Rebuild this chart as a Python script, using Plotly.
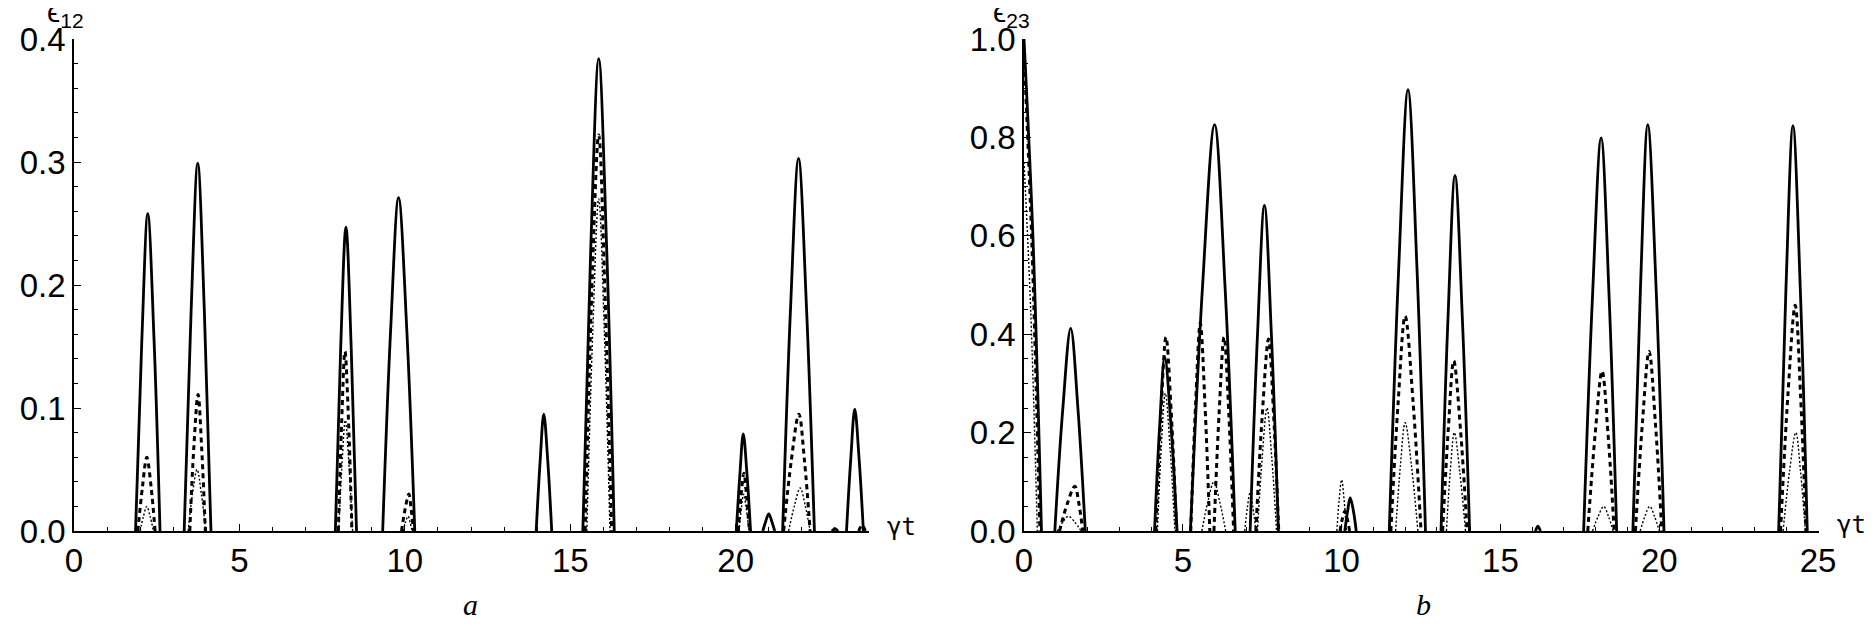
import plotly.graph_objects as go

W, H = 1874, 638

# ---- panel a : eps_12 vs gamma*t (arches separated by None) ----
solid_a_x = [1.86, 2.05, 2.23, 2.42, 2.60, None,
             3.33, 3.54, 3.74, 3.94, 4.14, None,
             7.90, 8.06, 8.22, 8.38, 8.54, None,
             9.33, 9.57, 9.81, 10.06, 10.30, None,
             13.97, 14.09, 14.20, 14.32, 14.44, None,
             15.38, 15.62, 15.86, 16.10, 16.33, None,
             20.02, 20.13, 20.23, 20.34, 20.45, None,
             20.82, 20.91, 21.00, 21.09, 21.18, None,
             21.42, 21.66, 21.90, 22.14, 22.38, None,
             22.90, 22.95, 23.00, 23.05, 23.10, None,
             23.35, 23.48, 23.60, 23.73, 23.86]
solid_a_y = [0, 0.155, 0.258, 0.155, 0, None,
             0, 0.179, 0.299, 0.179, 0, None,
             0, 0.148, 0.247, 0.148, 0, None,
             0, 0.163, 0.271, 0.163, 0, None,
             0, 0.057, 0.095, 0.057, 0, None,
             0, 0.230, 0.384, 0.230, 0, None,
             0, 0.047, 0.079, 0.047, 0, None,
             0, 0.008, 0.014, 0.008, 0, None,
             0, 0.182, 0.303, 0.182, 0, None,
             0, 0.001, 0.002, 0.001, 0, None,
             0, 0.059, 0.099, 0.059, 0]

dashed_a_x = [1.93, 2.07, 2.20, 2.33, 2.45, None,
              3.50, 3.62, 3.75, 3.86, 3.97, None,
              7.99, 8.09, 8.19, 8.30, 8.40, None,
              9.90, 10.01, 10.12, 10.19, 10.26, None,
              15.45, 15.65, 15.86, 16.05, 16.25, None,
              20.08, 20.16, 20.25, 20.33, 20.42, None,
              21.45, 21.68, 21.91, 22.08, 22.25, None,
              23.72, 23.77, 23.82, 23.87, 23.92]
dashed_a_y = [0, 0.036, 0.060, 0.036, 0, None,
              0, 0.067, 0.111, 0.067, 0, None,
              0, 0.088, 0.146, 0.088, 0, None,
              0, 0.018, 0.030, 0.018, 0, None,
              0, 0.193, 0.322, 0.193, 0, None,
              0, 0.028, 0.047, 0.028, 0, None,
              0, 0.057, 0.095, 0.057, 0, None,
              0, 0.003, 0.005, 0.003, 0]

dotted_a_x = [2.00, 2.10, 2.20, 2.30, 2.40, None,
              3.45, 3.58, 3.72, 3.85, 3.98, None,
              8.00, 8.10, 8.20, 8.31, 8.42, None,
              9.95, 10.02, 10.10, 10.16, 10.22, None,
              15.50, 15.68, 15.86, 16.03, 16.20, None,
              20.10, 20.17, 20.24, 20.32, 20.40, None,
              21.60, 21.78, 21.95, 22.10, 22.25]
dotted_a_y = [0, 0.012, 0.020, 0.012, 0, None,
              0, 0.030, 0.050, 0.030, 0, None,
              0, 0.054, 0.090, 0.054, 0, None,
              0, 0.007, 0.012, 0.007, 0, None,
              0, 0.162, 0.270, 0.162, 0, None,
              0, 0.018, 0.030, 0.018, 0, None,
              0, 0.021, 0.035, 0.021, 0]

# ---- panel b : eps_23 vs gamma*t ----
solid_b_x = [0, 0.28, 0.55, None,
             0.97, 1.22, 1.47, 1.70, 1.93, None,
             4.11, 4.27, 4.43, 4.63, 4.82, None,
             5.24, 5.62, 6.00, 6.33, 6.65, None,
             7.12, 7.35, 7.57, 7.79, 8.01, None,
             10.10, 10.19, 10.27, 10.37, 10.46, None,
             11.50, 11.80, 12.09, 12.37, 12.64, None,
             13.13, 13.35, 13.57, 13.80, 14.03, None,
             16.10, 16.14, 16.18, 16.22, 16.26, None,
             17.62, 17.90, 18.17, 18.42, 18.66, None,
             19.17, 19.41, 19.64, 19.90, 20.15, None,
             23.76, 23.99, 24.21, 24.44, 24.66]
solid_b_y = [1.0, 0.6, 0, None,
             0, 0.247, 0.412, 0.247, 0, None,
             0, 0.212, 0.354, 0.212, 0, None,
             0, 0.496, 0.826, 0.496, 0, None,
             0, 0.397, 0.662, 0.397, 0, None,
             0, 0.041, 0.068, 0.041, 0, None,
             0, 0.538, 0.897, 0.538, 0, None,
             0, 0.434, 0.723, 0.434, 0, None,
             0, 0.006, 0.010, 0.006, 0, None,
             0, 0.479, 0.799, 0.479, 0, None,
             0, 0.496, 0.826, 0.496, 0, None,
             0, 0.494, 0.824, 0.494, 0]

dashed_b_x = [0, 0.25, 0.50, None,
              1.12, 1.36, 1.60, 1.73, 1.85, None,
              4.15, 4.31, 4.47, 4.64, 4.80, None,
              5.25, 5.40, 5.55, 5.70, 5.85, None,
              5.98, 6.14, 6.30, 6.45, 6.60, None,
              7.30, 7.50, 7.70, 7.86, 8.02, None,
              9.95, 10.02, 10.10, 10.18, 10.25, None,
              11.55, 11.78, 12.00, 12.25, 12.50, None,
              13.18, 13.36, 13.53, 13.74, 13.95, None,
              17.75, 17.98, 18.20, 18.39, 18.58, None,
              19.25, 19.47, 19.68, 19.88, 20.08, None,
              23.82, 24.05, 24.28, 24.45, 24.62]
dashed_b_y = [0.97, 0.58, 0, None,
              0, 0.055, 0.091, 0.055, 0, None,
              0, 0.236, 0.394, 0.236, 0, None,
              0, 0.254, 0.423, 0.254, 0, None,
              0, 0.236, 0.394, 0.236, 0, None,
              0, 0.234, 0.390, 0.234, 0, None,
              0, 0.024, 0.040, 0.024, 0, None,
              0, 0.262, 0.437, 0.262, 0, None,
              0, 0.208, 0.346, 0.208, 0, None,
              0, 0.195, 0.325, 0.195, 0, None,
              0, 0.219, 0.365, 0.219, 0, None,
              0, 0.275, 0.459, 0.275, 0]

dotted_b_x = [0, 0.21, 0.42, None,
              1.05, 1.22, 1.40, 1.60, 1.80, None,
              4.20, 4.32, 4.45, 4.60, 4.75, None,
              5.60, 5.79, 5.98, 6.16, 6.35, None,
              6.95, 7.03, 7.12, 7.21, 7.30, None,
              7.35, 7.50, 7.65, 7.80, 7.95, None,
              9.85, 9.92, 10.00, 10.08, 10.15, None,
              11.70, 11.85, 12.00, 12.20, 12.40, None,
              13.30, 13.42, 13.55, 13.72, 13.90, None,
              17.90, 18.08, 18.25, 18.40, 18.55, None,
              19.40, 19.55, 19.70, 19.85, 20.00, None,
              23.90, 24.10, 24.30, 24.45, 24.60]
dotted_b_y = [0.75, 0.45, 0, None,
              0, 0.018, 0.030, 0.018, 0, None,
              0, 0.168, 0.280, 0.168, 0, None,
              0, 0.060, 0.100, 0.060, 0, None,
              0, 0.047, 0.078, 0.047, 0, None,
              0, 0.150, 0.250, 0.150, 0, None,
              0, 0.062, 0.104, 0.062, 0, None,
              0, 0.132, 0.220, 0.132, 0, None,
              0, 0.120, 0.200, 0.120, 0, None,
              0, 0.030, 0.050, 0.030, 0, None,
              0, 0.030, 0.050, 0.030, 0, None,
              0, 0.120, 0.200, 0.120, 0]

x_ticks_a = [0, 5, 10, 15, 20]
x_ticks_b = [0, 5, 10, 15, 20, 25]

fig = go.Figure()

styles = {
    "dotted": dict(color="black", width=1.4, dash="2px,2px"),
    "dashed": dict(color="black", width=3, dash="5px,4px"),
    "solid": dict(color="black", width=2.8),
}

panels = [
    ("x", "y", dotted_a_x, dotted_a_y, dashed_a_x, dashed_a_y, solid_a_x, solid_a_y),
    ("x2", "y2", dotted_b_x, dotted_b_y, dashed_b_x, dashed_b_y, solid_b_x, solid_b_y),
]
for xa, ya, dx, dy, ex, ey, sx, sy in panels:
    for name, xs, ys in (("dotted", dx, dy), ("dashed", ex, ey), ("solid", sx, sy)):
        line = dict(styles[name], shape="spline", smoothing=1.0)
        fig.add_trace(go.Scatter(x=xs, y=ys, mode="lines", line=line,
                                 connectgaps=False, xaxis=xa, yaxis=ya,
                                 showlegend=False, hoverinfo="skip"))

tick_font = dict(family="Liberation Sans, Arial, sans-serif", size=33, color="black")
common = dict(showline=True, linecolor="black", linewidth=1.6, showgrid=False,
              zeroline=False, ticks="inside", tickcolor="black", tickwidth=1.4,
              tickfont=tick_font, automargin=False)

# plot area in pixels, y measured from the top
y0 = 1 - 523 / H
y1 = 1 - 31 / H

fig.update_layout(
    width=W, height=H,
    margin=dict(l=0, r=0, t=0, b=0),
    paper_bgcolor="white", plot_bgcolor="white",
    xaxis=dict(domain=[66 / W, 861 / W], range=[0, 24.03], anchor="y",
               tickvals=x_ticks_a, ticklen=7,
               minor=dict(dtick=1, ticklen=4, ticks="inside", tickcolor="black"),
               **common),
    yaxis=dict(domain=[y0, y1], range=[0, 0.4], anchor="x",
               dtick=0.1, tickformat=".1f", ticklen=7,
               minor=dict(dtick=0.02, ticklen=4, ticks="inside", tickcolor="black"),
               **common),
    xaxis2=dict(domain=[1016 / W, 1811 / W], range=[0, 25.03], anchor="y2",
                tickvals=x_ticks_b, ticklen=7,
                minor=dict(dtick=1, ticklen=4, ticks="inside", tickcolor="black"),
                **common),
    yaxis2=dict(domain=[y0, y1], range=[0, 1.0], anchor="x2",
                dtick=0.2, tickformat=".1f", ticklen=7,
                minor=dict(dtick=0.05, ticklen=4, ticks="inside", tickcolor="black"),
                **common),
)

lab_font = dict(family="Liberation Sans, Arial, sans-serif", size=30, color="black")
gt_font = dict(family="DejaVu Sans Mono, monospace", size=24, color="black")
ital_font = dict(family="Liberation Serif, Times New Roman, serif", size=30, color="black")

# axis names at the arrow ends, panel letters below
fig.add_annotation(x=57 / W, y=1, xref="paper", yref="paper", text="ϵ<sub>12</sub>",
                   showarrow=False, font=lab_font, xanchor="center", yanchor="top",
                   yshift=15)
fig.add_annotation(x=1003 / W, y=1, xref="paper", yref="paper", text="ϵ<sub>23</sub>",
                   showarrow=False, font=lab_font, xanchor="center", yanchor="top",
                   yshift=15)

annots = [
    (893, 519, "γt", gt_font),
    (1843, 517, "γt", gt_font),
    (462, 596, "<i>a</i>", ital_font),
    (1415, 596, "<i>b</i>", ital_font),
]
for px, py, txt, f in annots:
    fig.add_annotation(x=px / W, y=1 - py / H, xref="paper", yref="paper",
                       text=txt, showarrow=False, font=f,
                       xanchor="center", yanchor="middle")

fig.write_html("out.html")
